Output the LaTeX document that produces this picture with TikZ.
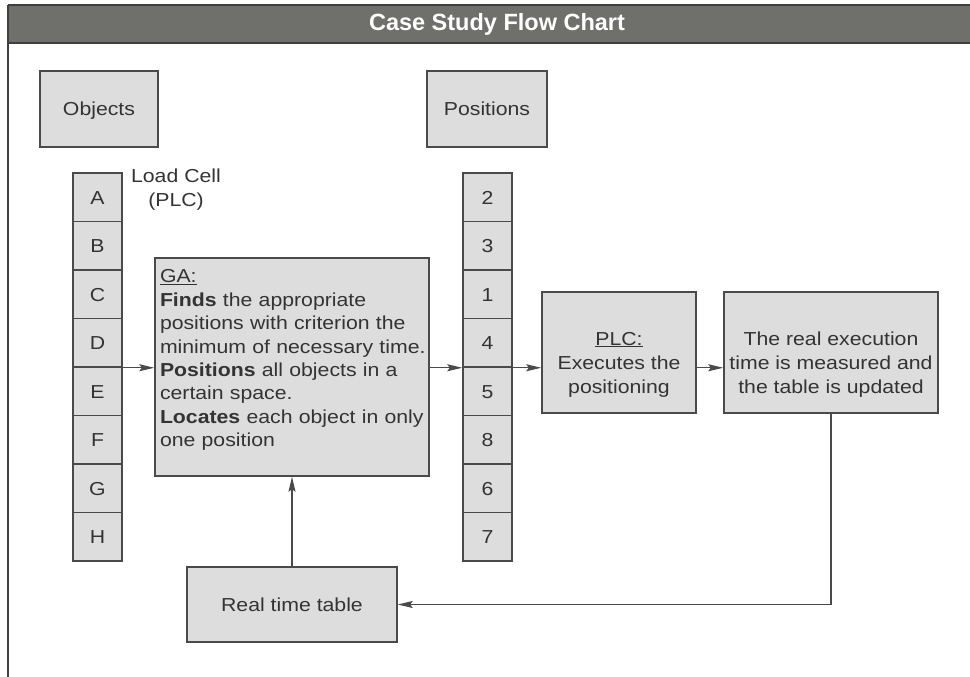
\documentclass[tikz,border=0pt]{standalone}
\usepackage{fontspec}
\setmainfont{Liberation Sans}[FakeStretch=1.13]
\newfontfamily\titlefont{Liberation Sans}
\usetikzlibrary{arrows.meta,calc}
\definecolor{boxfill}{HTML}{DCDDDC}
\definecolor{boxline}{HTML}{4A4A4A}
\definecolor{barfill}{HTML}{6F6F6B}
\definecolor{barline}{HTML}{3F3F3F}
\definecolor{ink}{HTML}{333333}
\begin{document}
\begin{tikzpicture}[x=1pt,y=-1pt,
  every node/.style={font=\fontsize{18.8}{24}\selectfont, text=ink},
  box/.style={draw=boxline, line width=1.5pt, fill=boxfill, inner sep=0pt, align=center},
  cell/.style={box, minimum width=49pt, minimum height=48.5pt, text height=13.5pt, text depth=0pt},
  header/.style={box, minimum height=76pt, text height=13.5pt, text depth=0pt},
  inbox/.style={align=center, yshift=-12pt},
  conn/.style={draw=boxline, line width=1.3pt, -{Stealth[length=15pt,width=7pt,inset=2.5pt]}}]
\useasboundingbox (0,0) rectangle (970,677);

% frame and title bar
\fill[barfill] (8,5) rectangle (975,43);
\draw[barline, line width=2pt] (8,5) -- (975,5);
\draw[barline, line width=2pt] (8,43) -- (975,43);
\draw[barline, line width=2.5pt] (8,5) -- (8,677);
\node[text=white, font=\titlefont\fontsize{23.5}{26}\selectfont\bfseries] (title) at (497,24) {Case Study Flow Chart};

% headers
\node[header, minimum width=118pt] (objects) at (99,109) {Objects};
\node[header, minimum width=120pt] (positions) at (487,109) {Positions};

% object and position columns
\foreach \lab [count=\i] in {A,B,C,D,E,F,G,H}
  \node[cell] (o\i) at (97.5,{173+24.25+48.5*(\i-1)}) {\lab};
\foreach \lab [count=\i] in {2,3,1,4,5,8,6,7}
  \node[cell] (p\i) at (487.5,{173+24.25+48.5*(\i-1)}) {\lab};

\node[align=center] (load) at (176,190) {Load Cell\\(PLC)};

% process boxes
\node[box, minimum width=274pt, minimum height=218pt, align=left, text width=270pt,
      font=\fontsize{18.8}{23.4}\selectfont] (ga) at (292,367)
  {\hspace*{3pt}\underline{GA:}\\
   \hspace*{3pt}\textbf{Finds} the appropriate\\
   \hspace*{3pt}positions with criterion the\\
   \hspace*{3pt}minimum of necessary time.\\
   \hspace*{3pt}\textbf{Positions} all objects in a\\
   \hspace*{3pt}certain space.\\
   \hspace*{3pt}\textbf{Locates} each object in only\\
   \hspace*{3pt}one position\\[-6pt]\mbox{}};
\node[box, minimum width=154pt, minimum height=121pt,
      label={[inbox]center:\underline{PLC:}\\Executes the\\positioning}] (plc) at (619,352.5) {};
\node[box, minimum width=214pt, minimum height=121pt,
      label={[inbox]center:The real execution\\time is measured and\\the table is updated}] (exec) at (831,352.5) {};
\node[box, minimum width=210pt, minimum height=75pt] (rtt) at (292,604.5) {Real time table};

% connectors
\draw[conn] (o4.south east) -- (o4.south east -| ga.west);
\draw[conn] (ga.east |- p4.south) -- (p4.south west);
\draw[conn] (p4.south east) -- (plc.west |- p4.south);
\draw[conn] (plc.east |- p4.south) -- (exec.west |- p4.south);
\draw[conn] (exec.south) |- (rtt.east);
\draw[conn] (rtt.north) -- (rtt.north |- ga.south);
\end{tikzpicture}
\end{document}
